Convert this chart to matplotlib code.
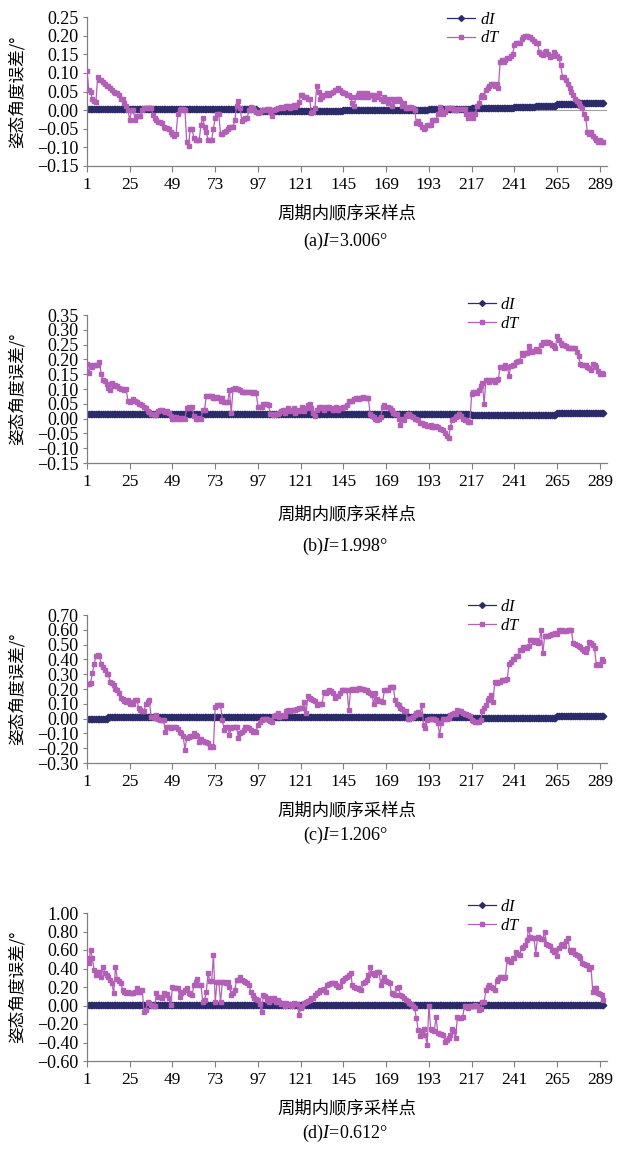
import numpy as np
import matplotlib
matplotlib.use("Agg")
import matplotlib.pyplot as plt
from matplotlib.ticker import FuncFormatter

# dT readings, one row per 24 samples (last row runs to the end)
dT_a = [
    0.105, 0.055, 0.05, 0.03, 0.025, 0.022, 0.09, 0.08, 0.08, 0.075, 0.07, 0.065, 0.065, 0.06, 0.055, 0.05, 0.045, 0.045, 0.04, 0.03, 0.03, 0.02, 0.01, 0.0,
    -0.027, 0.0, 0.0, -0.027, -0.015, -0.015, -0.015, 0.0, 0.007, 0.007, 0.007, 0.007, 0.007, -0.012, -0.02, -0.027, -0.033, -0.033, -0.035, -0.045, -0.047, -0.047, -0.05, -0.06,
    -0.065, -0.07, -0.065, -0.01, 0.0, 0.003, 0.003, 0.0, -0.085, -0.095, -0.05, -0.05, -0.075, -0.08, -0.08, -0.08, -0.04, -0.02, -0.045, -0.06, -0.08, -0.08, -0.08, -0.05,
    -0.02, -0.01, -0.01, -0.065, -0.065, -0.06, -0.055, -0.05, -0.045, -0.045, -0.045, -0.027, 0.01, 0.025, 0.005, -0.03, -0.025, -0.02, -0.02, 0.0, 0.008, 0.005, 0.0, -0.005,
    -0.008, -0.005, 0.0, 0.0, 0.0, 0.003, 0.003, -0.005, -0.015, 0.0, 0.003, 0.005, 0.005, 0.008, 0.005, 0.008, 0.01, 0.01, 0.005, 0.01, 0.015, 0.008, 0.015, 0.022,
    0.04, 0.04, 0.035, 0.035, 0.03, 0.03, -0.008, -0.005, 0.005, 0.065, 0.05, 0.03, 0.035, 0.04, 0.04, 0.045, 0.04, 0.045, 0.05, 0.055, 0.055, 0.06, 0.055, 0.05,
    0.045, 0.045, 0.04, 0.04, 0.035, 0.02, 0.01, 0.035, 0.04, 0.045, 0.035, 0.045, 0.035, 0.045, 0.035, 0.04, 0.04, 0.03, 0.04, 0.035, 0.045, 0.03, 0.025, 0.035,
    0.03, 0.02, 0.03, 0.01, 0.03, 0.025, 0.03, 0.03, 0.025, 0.01, 0.02, 0.005, 0.005, 0.008, 0.008, 0.005, 0.0, -0.035, -0.03, -0.036, -0.045, -0.05, -0.049, -0.04,
    -0.04, -0.04, -0.027, -0.027, -0.027, -0.01, 0.009, 0.0, -0.01, -0.005, 0.005, 0.005, 0.005, 0.005, 0.0, 0.0, 0.003, 0.003, 0.003, 0.003, 0.003, -0.01, -0.02, -0.01,
    -0.01, -0.02, -0.01, 0.01, 0.02, 0.035, 0.04, 0.035, 0.055, 0.06, 0.065, 0.07, 0.07, 0.065, 0.07, 0.06, 0.13, 0.135, 0.13, 0.135, 0.14, 0.14, 0.145, 0.15,
    0.175, 0.18, 0.18, 0.18, 0.19, 0.195, 0.2, 0.2, 0.195, 0.195, 0.19, 0.185, 0.18, 0.18, 0.155, 0.15, 0.148, 0.155, 0.16, 0.15, 0.143, 0.145, 0.155, 0.15,
    0.145, 0.14, 0.12, 0.09, 0.09, 0.08, 0.07, 0.06, 0.05, 0.04, 0.03, 0.025, 0.02, 0.01, 0.005, -0.01, -0.02, -0.06, -0.065, -0.06, -0.07, -0.075, -0.08, -0.085, -0.08, -0.085, -0.085,
]
dT_b = [
    0.185, 0.155, 0.18, 0.175, 0.18, 0.18, 0.18, 0.19, 0.15, 0.13, 0.128, 0.117, 0.105, 0.095, 0.12, 0.11, 0.115, 0.11, 0.105, 0.1, 0.1, 0.095, 0.1, 0.06,
    0.055, 0.06, 0.065, 0.06, 0.055, 0.05, 0.05, 0.045, 0.04, 0.035, 0.025, 0.022, 0.015, 0.015, 0.012, 0.015, 0.025, 0.028, 0.03, 0.025, 0.022, 0.025, 0.02, 0.008,
    0.0, 0.0, 0.005, 0.0, 0.003, 0.0, 0.002, 0.0, 0.035, 0.04, 0.035, 0.04, 0.01, 0.0, 0.0, 0.002, 0.0, 0.03, 0.03, 0.078, 0.078, 0.075, 0.075, 0.07,
    0.07, 0.072, 0.07, 0.06, 0.07, 0.055, 0.055, 0.055, 0.095, 0.02, 0.1, 0.105, 0.1, 0.1, 0.095, 0.09, 0.09, 0.09, 0.09, 0.09, 0.09, 0.085, 0.09, 0.088,
    0.04, 0.04, 0.04, 0.05, 0.05, 0.05, 0.045, 0.015, 0.015, 0.012, 0.015, 0.015, 0.02, 0.025, 0.03, 0.02, 0.03, 0.035, 0.025, 0.03, 0.035, 0.02, 0.03, 0.025,
    0.03, 0.04, 0.025, 0.035, 0.045, 0.05, 0.035, 0.02, 0.01, 0.03, 0.04, 0.035, 0.04, 0.03, 0.035, 0.04, 0.04, 0.035, 0.03, 0.035, 0.04, 0.03, 0.035, 0.035,
    0.04, 0.04, 0.045, 0.06, 0.06, 0.06, 0.065, 0.07, 0.07, 0.065, 0.07, 0.072, 0.07, 0.07, 0.07, 0.015, 0.01, 0.005, 0.0, -0.005, 0.0, 0.005, 0.04, 0.045,
    0.04, 0.04, 0.035, 0.03, 0.02, 0.015, 0.015, 0.0, -0.02, 0.0, -0.005, 0.01, 0.015, 0.015, 0.01, 0.005, 0.0, 0.0, -0.005, -0.015, -0.015, -0.02, -0.018, -0.025,
    -0.025, -0.02, -0.028, -0.028, -0.025, -0.03, -0.035, -0.035, -0.04, -0.05, -0.06, -0.067, -0.03, -0.005, 0.0, 0.005, 0.01, 0.015, 0.01, 0.0, -0.005, -0.005, -0.01, -0.01,
    0.083, 0.09, 0.09, 0.085, 0.095, 0.11, 0.12, 0.05, 0.13, 0.13, 0.125, 0.13, 0.13, 0.125, 0.13, 0.135, 0.175, 0.175, 0.17, 0.18, 0.175, 0.145, 0.178, 0.18,
    0.18, 0.19, 0.195, 0.195, 0.22, 0.215, 0.22, 0.22, 0.245, 0.23, 0.225, 0.23, 0.235, 0.23, 0.23, 0.25, 0.26, 0.255, 0.26, 0.26, 0.255, 0.25, 0.245, 0.24,
    0.28, 0.265, 0.255, 0.25, 0.25, 0.245, 0.24, 0.24, 0.24, 0.24, 0.24, 0.225, 0.21, 0.185, 0.18, 0.18, 0.18, 0.175, 0.17, 0.165, 0.185, 0.18, 0.175, 0.16, 0.15, 0.155, 0.15,
]
dT_c = [
    0.235, 0.235, 0.24, 0.305, 0.37, 0.42, 0.43, 0.42, 0.37, 0.35, 0.33, 0.3, 0.3, 0.25, 0.24, 0.23, 0.2, 0.195, 0.175, 0.14, 0.13, 0.12, 0.115, 0.125,
    0.1, 0.11, 0.1, 0.125, 0.125, 0.07, 0.06, 0.05, 0.05, 0.1, 0.11, 0.125, 0.01, 0.01, 0.005, 0.025, -0.005, -0.01, -0.01, -0.01, -0.09, -0.06, -0.055, -0.065,
    -0.06, -0.055, -0.055, -0.07, -0.09, -0.1, -0.12, -0.21, -0.13, -0.125, -0.12, -0.12, -0.1, -0.11, -0.12, -0.155, -0.14, -0.15, -0.155, -0.16, -0.165, -0.19, -0.185, -0.19,
    0.08, 0.09, 0.09, 0.09, -0.01, -0.075, -0.06, -0.055, -0.11, -0.065, -0.06, -0.055, -0.06, -0.13, -0.1, -0.09, -0.075, -0.055, -0.06, -0.065, -0.075, -0.088, -0.085, -0.088,
    -0.04, -0.025, -0.01, 0.0, 0.0, -0.005, -0.01, -0.015, -0.02, 0.015, 0.025, 0.035, 0.01, 0.02, 0.025, 0.02, 0.05, 0.055, 0.05, 0.06, 0.055, 0.06, 0.065, 0.07,
    0.07, 0.07, 0.115, 0.035, 0.15, 0.14, 0.13, 0.125, 0.12, 0.09, 0.1, 0.1, 0.1, 0.18, 0.175, 0.18, 0.19, 0.185, 0.17, 0.14, 0.15, 0.15, 0.17, 0.195,
    0.195, 0.19, 0.195, 0.06, 0.19, 0.2, 0.2, 0.195, 0.2, 0.205, 0.2, 0.2, 0.195, 0.19, 0.18, 0.17, 0.16, 0.1, 0.17, 0.13, 0.12, 0.12, 0.115, 0.19,
    0.19, 0.19, 0.215, 0.215, 0.215, 0.125, 0.1, 0.09, 0.07, 0.065, 0.05, 0.05, 0.0, 0.0, 0.005, 0.01, 0.025, 0.035, 0.045, 0.03, 0.09, -0.045, -0.065, -0.01,
    0.0, 0.0, -0.005, 0.0, -0.01, -0.03, -0.11, -0.03, 0.0, -0.005, 0.0, 0.005, 0.025, 0.03, 0.035, 0.03, 0.06, 0.05, 0.05, 0.035, 0.03, 0.03, 0.025, 0.02,
    -0.01, -0.015, -0.02, -0.02, -0.02, -0.01, 0.05, 0.07, 0.09, 0.125, 0.14, 0.16, 0.115, 0.25, 0.24, 0.245, 0.25, 0.26, 0.26, 0.26, 0.27, 0.37, 0.38, 0.4,
    0.4, 0.42, 0.42, 0.465, 0.465, 0.485, 0.485, 0.48, 0.49, 0.53, 0.53, 0.52, 0.53, 0.51, 0.52, 0.6, 0.44, 0.56, 0.555, 0.56, 0.565, 0.575, 0.57, 0.58,
    0.575, 0.6, 0.59, 0.6, 0.595, 0.59, 0.6, 0.6, 0.6, 0.51, 0.505, 0.5, 0.49, 0.485, 0.47, 0.46, 0.45, 0.475, 0.515, 0.51, 0.5, 0.475, 0.36, 0.37, 0.36, 0.4, 0.39,
]
dT_d = [
    0.51, 0.455, 0.6, 0.515, 0.38, 0.33, 0.36, 0.36, 0.31, 0.42, 0.35, 0.33, 0.31, 0.275, 0.24, 0.13, 0.42, 0.29, 0.26, 0.24, 0.17, 0.15, 0.13, 0.15,
    0.14, 0.13, 0.14, 0.15, 0.185, 0.15, 0.15, 0.17, -0.065, -0.05, 0.04, 0.025, 0.005, 0.0, -0.01, 0.13, 0.09, 0.09, 0.08, 0.13, 0.11, 0.12, 0.08, 0.005,
    0.2, 0.19, 0.185, 0.19, 0.095, 0.13, 0.15, 0.17, 0.185, 0.13, 0.12, 0.11, 0.22, 0.25, 0.29, 0.22, 0.22, 0.04, 0.06, 0.15, 0.35, 0.26, 0.26, 0.55,
    0.04, 0.25, 0.25, 0.04, 0.25, 0.25, 0.24, 0.25, 0.2, 0.11, 0.14, 0.17, 0.275, 0.275, 0.31, 0.28, 0.26, 0.25, 0.24, 0.22, 0.15, 0.11, 0.08, 0.07,
    0.06, 0.02, -0.07, 0.11, 0.1, 0.06, 0.04, 0.08, 0.06, 0.08, 0.04, 0.06, 0.04, 0.02, 0.03, -0.01, 0.03, 0.01, 0.02, -0.01, 0.03, 0.02, 0.02, -0.1,
    -0.03, 0.0, 0.03, 0.04, 0.05, 0.06, 0.08, 0.08, 0.11, 0.13, 0.15, 0.17, 0.17, 0.18, 0.15, 0.22, 0.23, 0.24, 0.24, 0.24, 0.22, 0.2, 0.21, 0.27,
    0.28, 0.3, 0.31, 0.33, 0.35, 0.22, 0.2, 0.185, 0.185, 0.18, 0.17, 0.24, 0.25, 0.275, 0.33, 0.42, 0.35, 0.34, 0.33, 0.365, 0.36, 0.22, 0.27, 0.31,
    0.26, 0.25, 0.24, 0.13, 0.12, 0.11, 0.185, 0.2, 0.11, 0.1, 0.08, 0.06, 0.05, 0.03, 0.02, -0.01, -0.03, -0.14, -0.265, -0.335, -0.28, -0.25, -0.32, -0.43,
    0.0, -0.25, -0.26, -0.28, -0.12, -0.3, -0.31, -0.31, -0.32, -0.39, -0.37, -0.355, -0.32, -0.25, -0.28, -0.355, -0.12, -0.13, -0.14, -0.12, 0.0, -0.02, -0.03, 0.0,
    0.0, 0.0, 0.005, 0.0, -0.05, -0.04, 0.04, 0.04, 0.17, 0.2, 0.22, 0.2, 0.19, 0.17, 0.27, 0.29, 0.31, 0.31, 0.3, 0.31, 0.5, 0.48, 0.47, 0.51,
    0.51, 0.58, 0.56, 0.55, 0.62, 0.63, 0.65, 0.71, 0.83, 0.74, 0.73, 0.73, 0.56, 0.74, 0.73, 0.72, 0.72, 0.8, 0.67, 0.65, 0.64, 0.6, 0.58, 0.6,
    0.53, 0.62, 0.65, 0.67, 0.64, 0.7, 0.73, 0.6, 0.58, 0.6, 0.56, 0.55, 0.53, 0.51, 0.455, 0.45, 0.44, 0.44, 0.4, 0.42, 0.15, 0.185, 0.185, 0.13, 0.12, 0.11, 0.06,
]

# dI is almost flat: level held for a number of samples
dI_a_level = [0.003, -0.002, 0.0, 0.002, 0.005, 0.008, 0.012, 0.016, 0.02]
dI_a_count = [96, 48, 48, 24, 24, 12, 12, 12, 15]
dI_b_level = [0.017, 0.015, 0.012, 0.018]
dI_b_count = [96, 120, 48, 27]
dI_c_level = [0.0, 0.008, 0.005, 0.015]
dI_c_count = [12, 204, 48, 27]
dI_d_level = [0.01]
dI_d_count = [291]

captions = ["(a)$I$=3.006°", "(b)$I$=1.998°", "(c)$I$=1.206°", "(d)$I$=0.612°"]
ylims = [(-0.15, 0.25), (-0.15, 0.35), (-0.30, 0.70), (-0.60, 1.00)]
ysteps = [0.05, 0.05, 0.10, 0.20]
xticks = [1, 25, 49, 73, 97, 121, 145, 169, 193, 217, 241, 265, 289]

plt.rcParams['font.family'] = ['Liberation Serif', 'Noto Sans CJK SC']
plt.rcParams['mathtext.fontset'] = 'custom'
plt.rcParams['mathtext.rm'] = 'Liberation Serif'
plt.rcParams['mathtext.it'] = 'Liberation Serif:italic'

W, H = 634, 1150
fig = plt.figure(figsize=(W / 100, H / 100), dpi=100)

# pixel layout of each panel: axes top, axes bottom, xlabel y, caption y, legend top
boxes = [(17, 166, 213, 241, 12), (315, 463, 514, 546, 297), (615, 763, 810, 835, 599), (913, 1061, 1108, 1133, 899)]
leg_x = [447, 468, 468, 468]
left, right = 87, 607

c_dI = '#2B2B6B'
c_dT = '#B35FB8'
grey = '#808080'

panels = [
    (dT_a, dI_a_level, dI_a_count),
    (dT_b, dI_b_level, dI_b_count),
    (dT_c, dI_c_level, dI_c_count),
    (dT_d, dI_d_level, dI_d_count),
]

for i, (dT, lev, cnt) in enumerate(panels):
    top, bot, xl_y, cap_y, leg_top = boxes[i]
    ax = fig.add_axes([left / W, 1 - bot / H, (right - left) / W, (bot - top) / H])
    dI = np.repeat(lev, cnt)
    x_T = np.arange(1, len(dT) + 1)
    x_I = np.arange(1, len(dI) + 1)

    if i == 0:
        ax.axhline(0, color='#a0a0a0', lw=0.8, zorder=1)
    ax.plot(x_I, dI, color=c_dI, lw=0.9, marker='D', ms=3.3, mec=c_dI, mfc=c_dI, label='$dI$', zorder=2)
    ax.plot(x_T, dT, color=c_dT, lw=0.9, marker='s', ms=3.2, mec=c_dT, mfc=c_dT, label='$dT$', zorder=3)

    lo, hi = ylims[i]
    ax.set_ylim(lo, hi)
    ax.set_xlim(1, 293)
    n = int(round((hi - lo) / ysteps[i]))
    ax.set_yticks([lo + k * ysteps[i] for k in range(n + 1)])
    ax.yaxis.set_major_formatter(FuncFormatter(lambda v, p: f"{v:.2f}".replace('-', '\u2212')))
    ax.set_xticks(xticks)

    for s in ['top', 'right']:
        ax.spines[s].set_visible(False)
    for s in ['left', 'bottom']:
        ax.spines[s].set_color(grey)
        ax.spines[s].set_linewidth(0.9)
    ax.tick_params(axis='y', direction='out', length=3, width=0.8, color=grey, labelsize=13, pad=3)
    ax.tick_params(axis='x', direction='out', length=4, width=0.8, color=grey, labelsize=12.5, pad=4)

    ax.set_ylabel("姿态角度误差/°", family=['Noto Sans CJK SC', 'DejaVu Sans'], fontsize=12)
    ax.yaxis.set_label_coords((26 - left) / (right - left), 0.5)

    fig.text((left + right) / 2 / W, 1 - xl_y / H, "周期内顺序采样点",
             family=['Noto Sans CJK SC', 'DejaVu Sans'], fontsize=12.5, ha='center', va='center')
    fig.text(345 / W, 1 - cap_y / H, captions[i], fontsize=13, ha='center', va='center')

    ax.legend(loc='upper left', bbox_to_anchor=((leg_x[i] - left) / (right - left), (bot - leg_top) / (bot - top)),
              frameon=False, fontsize=12, handlelength=1.7, handletextpad=0.25, labelspacing=0.15,
              borderpad=0, borderaxespad=0, markerscale=0.9)

fig.savefig("out.png", dpi=100)
